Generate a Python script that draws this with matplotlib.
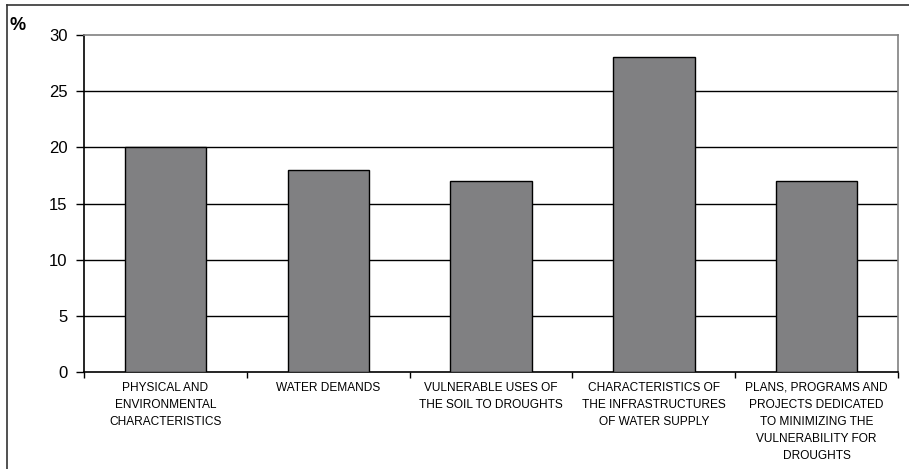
import matplotlib.pyplot as plt
from matplotlib.lines import Line2D

plt.rcParams['font.family'] = ['Liberation Sans', 'DejaVu Sans']

categories = [
    'PHYSICAL AND\nENVIRONMENTAL\nCHARACTERISTICS',
    'WATER DEMANDS',
    'VULNERABLE USES OF\nTHE SOIL TO DROUGHTS',
    'CHARACTERISTICS OF\nTHE INFRASTRUCTURES\nOF WATER SUPPLY',
    'PLANS, PROGRAMS AND\nPROJECTS DEDICATED\nTO MINIMIZING THE\nVULNERABILITY FOR\nDROUGHTS',
]
percentages = [20, 18, 17, 28, 17]
y_ticks = [0, 5, 10, 15, 20, 25, 30]


def drawChart() -> None:
    fig = plt.figure(figsize=(9.09, 4.69), dpi=100)
    ax = fig.add_axes([84 / 909, 1 - 372 / 469, 814 / 909, 337 / 469])

    positions = list(range(len(categories)))
    ax.bar(positions, percentages, width=0.5, color='#808082',
           edgecolor='black', linewidth=1, zorder=3)

    ax.set_xlim(-0.5, len(categories) - 0.5)
    ax.set_ylim(0, 30)
    ax.set_yticks(y_ticks)
    ax.set_yticklabels([str(v) for v in y_ticks], fontsize=12)
    for v in y_ticks[1:-1]:
        ax.axhline(v, color='black', linewidth=1, zorder=1)

    # category boundaries carry the tick marks, labels sit in between
    ax.set_xticks([p - 0.5 for p in positions] + [len(categories) - 0.5])
    ax.set_xticklabels([])
    ax.set_xticks(positions, minor=True)
    ax.set_xticklabels(categories, minor=True, fontsize=8.6, linespacing=1.55,
                       va='top', ha='center')
    ax.tick_params(axis='x', which='major', direction='out', length=4, width=1)
    ax.tick_params(axis='x', which='minor', length=0, pad=7)
    ax.tick_params(axis='y', direction='out', length=6, width=1, pad=6)

    ax.spines['left'].set_color('black')
    ax.spines['bottom'].set_color('black')
    ax.spines['top'].set_color('#808080')
    ax.spines['right'].set_color('#808080')
    for spine in ax.spines.values():
        spine.set_linewidth(1.2)

    fig.text(10 / 909, 1 - 26 / 469, '%', fontsize=13, fontweight='bold',
             va='center', ha='left')

    # outer frame (left and top edges)
    fig.add_artist(Line2D([7 / 909, 7 / 909], [0, 1 - 5 / 469],
                          transform=fig.transFigure, color='#333333', linewidth=1.2))
    fig.add_artist(Line2D([7 / 909, 1], [1 - 5 / 469, 1 - 5 / 469],
                          transform=fig.transFigure, color='#333333', linewidth=1.2))

    fig.savefig('out.png', dpi=100)


if __name__ == '__main__':
    drawChart()
